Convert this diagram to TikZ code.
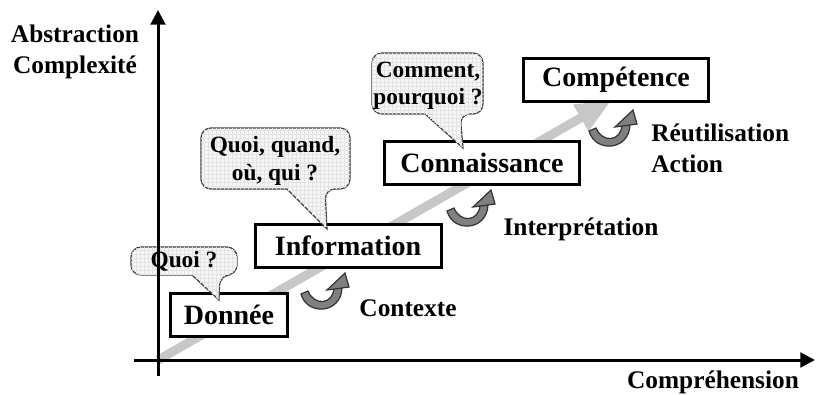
\documentclass[tikz,border=0pt]{standalone}
\usepackage{fontspec}
\setmainfont{Liberation Serif}
\usepackage{tikz}
\usetikzlibrary{arrows.meta,patterns,calc}

\tikzset{
  stage/.style={draw, line width=2.25pt, fill=white, inner sep=0pt, minimum height=32.25pt, font=\fontsize{21}{25}\selectfont\bfseries},
  bubble/.style={draw=black!75, line width=0.9pt, fill=gray!7, postaction={pattern=grid, pattern color=gray!22}},
  bubbletext/.style={inner sep=0pt, align=center, font=\fontsize{17.5}{20.5}\selectfont\bfseries},
  axislabel/.style={inner sep=0pt, font=\fontsize{19}{23}\selectfont\bfseries},
  axis/.style={line width=2.25pt, -{Triangle[length=11pt,width=11pt]}},
  turn/.style={draw=black!80, line width=0.9pt, fill=gray},
}

% speech bubble: x1 y1 x2 y2 tail-left tail-right tip
\newcommand\bubbleshape[7]{%
\draw[bubble] ({(#1+#3)/2},#2) [rounded corners=7.5pt] -- (#3,#2) -- (#3,#4) -- (#6,#4) [sharp corners] -- #7 -- (#5,#4) [rounded corners=7.5pt] -- (#1,#4) -- (#1,#2) -- cycle;}

% curved gray arrow, top left corner at (#1,#2)
\newcommand\turnarrow[2]{%
\begin{scope}[shift={(#1,#2)}]
\draw[turn] (1,19) .. controls (7,41) and (41,39) .. (42,13) -- (34,13) .. controls (33,30) and (14,31) .. (8,16) -- cycle;
\draw[turn] (27,15) -- (45,-2) -- (49,12) -- cycle;
\end{scope}}

\begin{document}
\begin{tikzpicture}[x=0.75pt,y=0.75pt,yscale=-1,xscale=1]
\useasboundingbox (0,0) rectangle (816,394);

\coordinate (origin) at (158,360);
\coordinate (ytop) at (158,10);
\coordinate (ybot) at (158,376);
\coordinate (xleft) at (134,360);
\coordinate (xright) at (815,360);
\coordinate (growtip) at (612,100);

% growth arrow
\draw[line width=6.75pt, black!22, -{Triangle[length=27pt,width=21pt]}] (origin) -- (growtip);

% stages
\draw (229,315) node [stage, minimum width=87.75pt] (donnee) {Donnée};
\draw (348,246) node [stage, minimum width=139.5pt] (info) {Information};
\draw (482,163) node [stage, minimum width=146.25pt] (conn) {Connaissance};
\draw (616,80) node [stage, minimum width=138.75pt] (comp) {Compétence};

% bubbles
\bubbleshape{131}{247}{237}{275}{192}{220}{($(donnee.north)+(-10,8)$)}
\bubbleshape{201}{128}{350}{189}{287}{325}{($(info.north)+(-21,6)$)}
\bubbleshape{372}{53}{483}{114}{425}{460}{($(conn.north)+(-19,8)$)}

\draw (184,261) node [bubbletext] (q1) {Quoi ?};
\draw (275,161) node [bubbletext] (q2) {Quoi, quand,\\où, qui ?};
\draw (428,86) node [bubbletext] (q3) {Comment,\\pourquoi ?};

% axes
\draw[axis] (ybot) -- (ytop);
\draw[axis] (xleft) -- (xright);

\turnarrow{300}{275}
\turnarrow{446}{192}
\turnarrow{588}{112}

% labels
\draw (75,52) node [axislabel, align=center] (abstr) {Abstraction\\Complexité};
\draw (713,382) node [axislabel] (compr) {Compréhension};
\draw (408,308) node [axislabel] (ctx) {Contexte};
\draw (581,229) node [axislabel] (interp) {Interprétation};
\draw (651,148) node [axislabel, anchor=west, align=left] (reuse) {Réutilisation\\Action};

\end{tikzpicture}
\end{document}
